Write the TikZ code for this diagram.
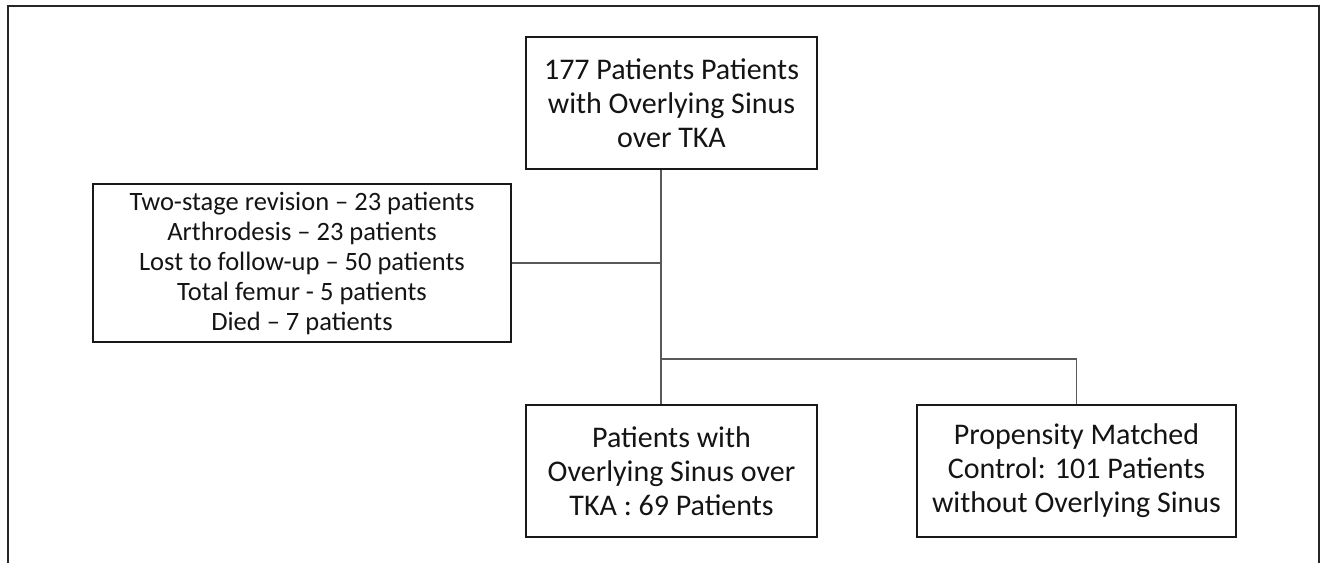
\documentclass[tikz,border=0pt]{standalone}
\usepackage{fontspec}
\setmainfont{Carlito}
\usetikzlibrary{calc}
\begin{document}
\begin{tikzpicture}[x=1pt,y=1pt,
  box/.style={draw=black!90, line width=1.6pt, align=center, inner sep=0pt,
    font=\fontsize{30}{34}\selectfont, text=black!92},
  link/.style={draw=black!65, line width=1.3pt},
  frame/.style={draw=black!85, line width=2.4pt}]
\useasboundingbox (0,0) rectangle (1321,-563);
\draw[frame] (8,-563) -- (8,-6) -- (1319,-6) -- (1319,-563);
\node[box, minimum width=291, minimum height=132] (top) at (671.5,-103)
  {177 Patients Patients\\with Overlying Sinus\\over TKA};
\node[box, minimum width=418, minimum height=158,
  font=\fontsize{26.5}{30}\selectfont] (excl) at (302,-263)
  {Two-stage revision – 23 patients\\Arthrodesis – 23 patients\\Lost to follow-up – 50 patients\\Total femur - 5 patients\\Died – 7 patients};
\node[box, minimum width=291, minimum height=132] (study) at (671.5,-471)
  {Patients with\\Overlying Sinus over\\TKA : 69 Patients};
\node[box, minimum width=319, minimum height=132] (ctrl) at (1076.5,-471)
  {Propensity Matched\\Control: 101 Patients\\without Overlying Sinus};
\coordinate (trunk) at (661,0);
\coordinate (split) at (661,-359);
\draw[link] (top.south -| trunk) -- (study.north -| trunk);
\draw[link] (excl.east) -- (excl.east -| trunk);
\draw[link] (split) -| (ctrl.north);
\end{tikzpicture}
\end{document}
